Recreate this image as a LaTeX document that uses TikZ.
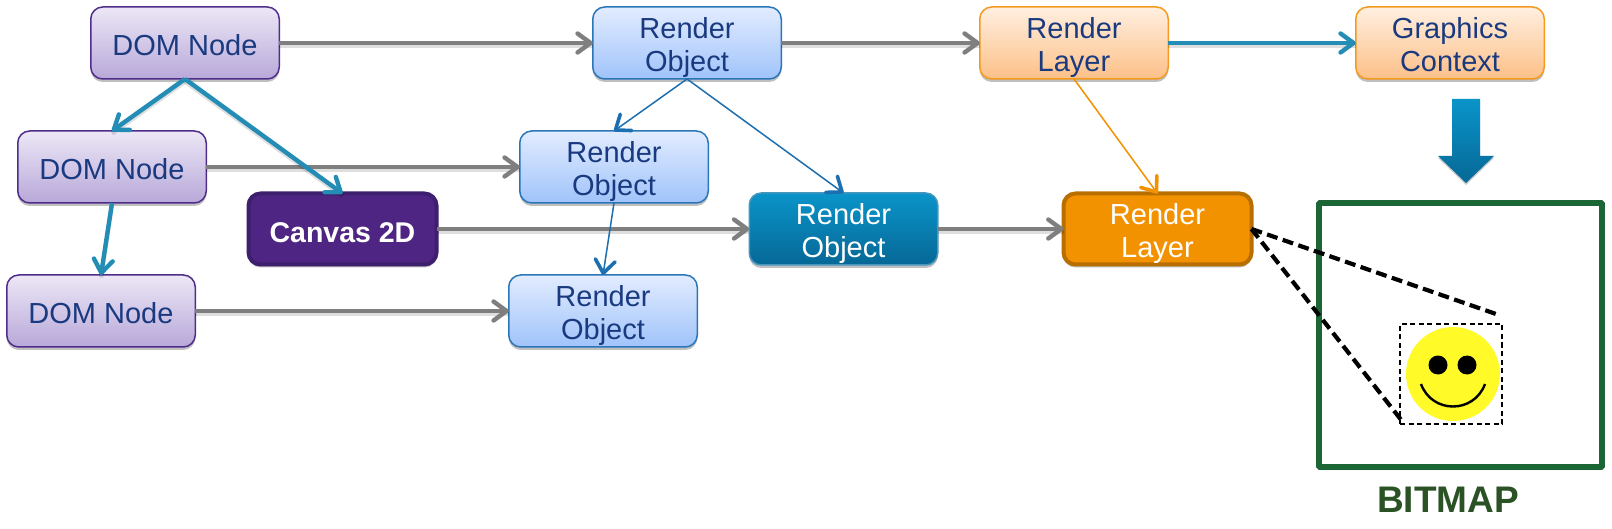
\documentclass[tikz,border=0pt]{standalone}
\usepackage{fontspec}
\setmainfont{Liberation Sans}
\usetikzlibrary{arrows.meta,shadows}
\definecolor{inkblue}{HTML}{1A3A80}
\definecolor{linkgray}{HTML}{7F7F7F}
\definecolor{tealline}{HTML}{238DB5}
\definecolor{thinblue}{HTML}{1C6FB0}
\definecolor{thinorange}{HTML}{F39200}
\definecolor{bitgreen}{HTML}{1C6535}
\definecolor{bittext}{HTML}{2A5225}
\definecolor{domedge}{RGB}{79,45,138}
\definecolor{domtop}{RGB}{236,231,246}
\definecolor{dombot}{RGB}{184,168,217}
\definecolor{roedge}{RGB}{42,118,184}
\definecolor{rotop}{RGB}{226,236,255}
\definecolor{robot}{RGB}{160,195,250}
\definecolor{rledge}{RGB}{243,154,31}
\definecolor{rltop}{RGB}{255,239,224}
\definecolor{rlbot}{RGB}{253,192,136}
\definecolor{dkedge}{RGB}{70,150,190}
\definecolor{dktop}{RGB}{10,148,201}
\definecolor{dkbot}{RGB}{6,104,150}
\definecolor{rldedge}{RGB}{185,111,0}
\definecolor{cvedge}{RGB}{62,31,110}
\definecolor{cvfill}{RGB}{79,37,131}
\definecolor{smileyfill}{RGB}{255,250,40}
\newcommand{\twolines}[2]{\rule{0pt}{31.5pt}#1\\#2\rule[-6.5pt]{0pt}{6.5pt}}
\newcommand{\oneline}[1]{\rule[-8pt]{0pt}{42pt}#1}
\newcommand{\boldline}[1]{\rule[-8pt]{0pt}{44pt}#1}
\tikzset{
  softshadow/.style={drop shadow={shadow xshift=0pt,shadow yshift=-3pt,opacity=.25,fill=black}},
  boxbase/.style={rectangle,rounded corners=12pt,minimum width=188.5pt,minimum height=72pt,inner sep=0pt,outer sep=0pt,
    align=center,font=\fontsize{29}{33}\selectfont,text=inkblue,line width=1.5pt,softshadow},
  dombox/.style={boxbase,draw=domedge,top color=domtop,bottom color=dombot},
  robox/.style={boxbase,draw=roedge,top color=rotop,bottom color=robot},
  rlbox/.style={boxbase,draw=rledge,top color=rltop,bottom color=rlbot},
  rodark/.style={boxbase,draw=dkedge,top color=dktop,bottom color=dkbot,text=white},
  rldark/.style={boxbase,draw=rldedge,line width=4pt,fill=thinorange,text=white,minimum width=188pt,minimum height=71pt},
  canvasbox/.style={boxbase,draw=cvedge,line width=4pt,fill=cvfill,text=white,minimum width=188pt,minimum height=71pt,font=\fontsize{28.5}{32}\selectfont\bfseries},
  thickarrow/.style={line width=4.4pt,-{Straight Barb[length=13pt,width=19pt,line width=4.4pt,round]},
    preaction={draw=black,draw opacity=.13,line width=4.4pt,arrows=-,transform canvas={yshift=-2.5pt}}},
  grayarrow/.style={thickarrow,draw=linkgray},
  tealarrow/.style={thickarrow,draw=tealline},
  thinarrow/.style={line width=1.5pt,-{Straight Barb[length=13pt,width=20pt,line width=3.6pt,round]}},
  bluearrow/.style={thinarrow,draw=thinblue},
  orangearrow/.style={thinarrow,draw=thinorange},
  zoomline/.style={draw=black,line width=4.2pt,dash pattern=on 11pt off 5.5pt},
}
\begin{document}
\begin{tikzpicture}[x=1pt,y=-1pt]
\useasboundingbox (0,0) rectangle (1612,529);
\fill[white] (0,0) rectangle (1612,529);
% boxes
\node[dombox] (dom1) at (185,43) {\oneline{DOM Node}};
\node[dombox] (dom2) at (112,167) {\oneline{DOM Node}};
\node[dombox] (dom3) at (101,311) {\oneline{DOM Node}};
\node[canvasbox] (canvas) at (342.5,229) {\boldline{Canvas 2D}};
\node[robox] (ro1) at (687,43) {\twolines{Render}{Object}};
\node[robox] (ro2) at (614,167) {\twolines{Render}{Object}};
\node[robox] (ro3) at (603,311) {\twolines{Render}{Object}};
\node[rodark] (ro4) at (843.5,229) {\twolines{Render}{Object}};
\node[rlbox] (rl1) at (1074,43) {\twolines{Render}{Layer}};
\node[rldark] (rl2) at (1157.5,229) {\twolines{Render}{Layer}};
\node[rlbox] (gc) at (1450,43) {\twolines{Graphics}{Context}};
% gray links
\draw[grayarrow] (dom1.east) -- (ro1.west);
\draw[grayarrow] (dom2.east) -- (ro2.west);
\draw[grayarrow] (dom3.east) -- (ro3.west);
\draw[grayarrow] (canvas.east) -- (ro4.west);
\draw[grayarrow] (ro4.east) -- (rl2.west);
\draw[grayarrow] (ro1.east) -- (rl1.west);
\draw[tealarrow] (rl1.east) -- (gc.west);
% tree links
\draw[tealarrow] (dom1.south) -- (dom2.north);
\draw[tealarrow] (dom1.south) -- (canvas.north);
\draw[tealarrow] (dom2.south) -- (dom3.north);
\draw[bluearrow] (ro1.south) -- (ro2.north);
\draw[bluearrow] (ro1.south) -- (ro4.north);
\draw[bluearrow] (ro2.south) -- (ro3.north);
\draw[orangearrow] (rl1.south) -- (rl2.north);
% block arrow
\fill[black,opacity=.2]
  (1452,101) -- (1480,101) -- (1480,158) -- (1494,158) -- (1466,185) -- (1438,158) -- (1452,158) -- cycle;
\shade[top color=dktop,bottom color=dkbot]
  (1452,99) -- (1480,99) -- (1480,156) -- (1494,156) -- (1466,183) -- (1438,156) -- (1452,156) -- cycle;
% bitmap
\node[rectangle,draw=bitgreen,line width=5.7pt,minimum width=283pt,minimum height=264pt,inner sep=0pt,outer sep=0pt,
  rounded corners=1pt,softshadow,fill=white] (bitmap) at (1460.5,335) {};
\node[font=\fontsize{37}{42}\selectfont\bfseries,text=bittext,inner sep=0pt] (bitlabel) at (1448,499.5) {BITMAP};
% smiley
\node[rectangle,draw=black,line width=1.3pt,dash pattern=on 5pt off 3.5pt,fill=white,minimum width=102pt,minimum height=100pt,inner sep=0pt,outer sep=0pt] (smilebox) at (1451,374) {};
\fill[smileyfill] (1453,374) circle (47);
\fill[black] (1438,365) circle (9.5);
\fill[black] (1467,365) circle (9.5);
\draw[black,line width=2.4pt] (1421,384) .. controls (1432,414) and (1474,414) .. (1485,384);
% zoom lines
\coordinate (ztop) at (1496,314);
\coordinate (zbot) at (1402,421);
\draw[zoomline] (rl2.east) -- (ztop);
\draw[zoomline] (rl2.east) -- (zbot);
\end{tikzpicture}
\end{document}
